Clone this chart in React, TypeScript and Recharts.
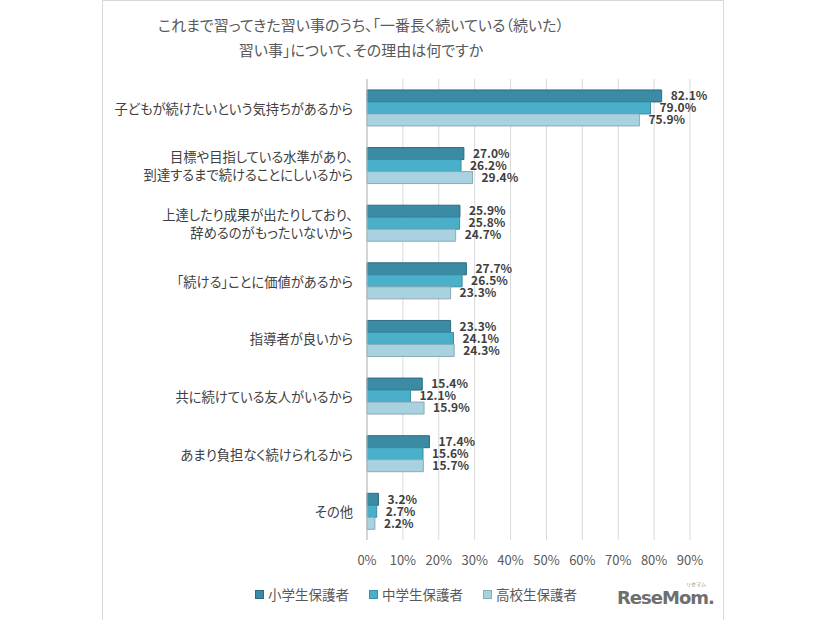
import { BarChart, Bar, XAxis, YAxis, CartesianGrid, LabelList } from "recharts";

const reasons = [
  "子どもが続けたいという気持ちがあるから",
  "目標や目指している水準があり、\n到達するまで続けることにしいるから",
  "上達したり成果が出たりしており、\n辞めるのがもったいないから",
  "「続ける」ことに価値があるから",
  "指導者が良いから",
  "共に続けている友人がいるから",
  "あまり負担なく続けられるから",
  "その他",
];

const elementary = [82.1, 27.0, 25.9, 27.7, 23.3, 15.4, 17.4, 3.2];
const juniorHigh = [79.0, 26.2, 25.8, 26.5, 24.1, 12.1, 15.6, 2.7];
const highSchool = [75.9, 29.4, 24.7, 23.3, 24.3, 15.9, 15.7, 2.2];

const seriesNames = ["小学生保護者", "中学生保護者", "高校生保護者"];
const xTicks = [0, 10, 20, 30, 40, 50, 60, 70, 80, 90];

const colors = ["#3a8ba3", "#4aafc9", "#a8d2df"];
const strokes = ["#2d6c80", "#3a8ea5", "#8aaab5"];

const data = reasons.map((reason, i) => ({
  reason,
  s0: elementary[i],
  s1: juniorHigh[i],
  s2: highSchool[i],
}));

const FONT = "'Noto Sans CJK JP', sans-serif";

const ReasonTick = (props: any) => {
  const { x, y, payload } = props;
  const lines = String(payload.value).split("\n");
  const lh = 18;
  const start = y - ((lines.length - 1) * lh) / 2;
  return (
    <text
      x={x - 6}
      y={start}
      textAnchor="end"
      dominantBaseline="central"
      fill="#404040"
      fontSize={13.3}
      style={{ fontFeatureSettings: "'palt'" }}
    >
      {lines.map((line, i) => (
        <tspan key={i} x={x - 6} y={start + i * lh}>
          {line}
        </tspan>
      ))}
    </text>
  );
};

const App = () => {
  return (
    <div
      style={{
        position: "absolute",
        left: 0,
        top: 0,
        width: 826,
        height: 620,
        background: "#fff",
        fontFamily: FONT,
        overflow: "hidden",
      }}
    >
      <div
        style={{
          position: "absolute",
          left: 102,
          top: 0,
          width: 620,
          height: 640,
          border: "1px solid #d9d9d9",
        }}
      />
      <div
        style={{
          position: "absolute",
          left: 110,
          width: 502,
          top: 12,
          textAlign: "center",
          fontSize: 15,
          lineHeight: "25px",
          color: "#595959",
          fontFeatureSettings: "'palt'",
        }}
      >
        これまで習ってきた習い事のうち、「一番長く続いている（続いた）
        <br />
        習い事」について、その理由は何ですか
      </div>

      <div style={{ position: "absolute", left: 0, top: 0 }}>
        <BarChart
          width={826}
          height={620}
          data={data}
          layout="vertical"
          margin={{ top: 79, right: 136, bottom: 50, left: 0 }}
          barCategoryGap="19%"
          barGap={0}
          style={{ fontFamily: FONT }}
        >
          <CartesianGrid horizontal={false} stroke="#d9d9d9" />
          <XAxis
            type="number"
            domain={[0, 90]}
            ticks={xTicks}
            tickFormatter={(v: number) => `${v}%`}
            axisLine={false}
            tickLine={false}
            tick={{ fill: "#595959", fontSize: 13 }}
            tickMargin={10}
            height={30}
          />
          <YAxis
            type="category"
            dataKey="reason"
            width={367}
            interval={0}
            axisLine={{ stroke: "#bfbfbf" }}
            tickLine={false}
            tick={<ReasonTick />}
          />
          {["s0", "s1", "s2"].map((key, i) => (
            <Bar
              key={key}
              dataKey={key}
              name={seriesNames[i]}
              fill={colors[i]}
              stroke={strokes[i]}
              strokeWidth={1}
              isAnimationActive={false}
            >
              <LabelList
                dataKey={key}
                position="right"
                offset={9}
                formatter={(v: any) => `${Number(v).toFixed(1)}%`}
                fill="#404040"
                fontSize={12}
                fontWeight="bold"
              />
            </Bar>
          ))}
        </BarChart>
      </div>

      <div
        style={{
          position: "absolute",
          top: 585,
          left: 255,
          display: "flex",
          fontSize: 13.5,
          color: "#595959",
          lineHeight: "18px",
        }}
      >
        {seriesNames.map((name, i) => (
          <div
            key={name}
            style={{ display: "flex", alignItems: "center", width: 114 }}
          >
            <span
              style={{
                width: 7,
                height: 7,
                background: colors[i],
                border: `1px solid ${strokes[i]}`,
                marginRight: 4,
              }}
            />
            {name}
          </div>
        ))}
      </div>

      <div
        style={{
          position: "absolute",
          left: 617,
          top: 589,
          fontFamily: "'DejaVu Sans', sans-serif",
          fontWeight: "bold",
          fontSize: 18,
          lineHeight: 1,
          color: "#6f6f6f",
          letterSpacing: -1,
        }}
      >
        ReseMom.
      </div>
      <div
        style={{
          position: "absolute",
          left: 686,
          top: 581,
          fontSize: 5,
          lineHeight: 1,
          color: "#8a8a8a",
        }}
      >
        リセマム
      </div>
    </div>
  );
};

export default App;
